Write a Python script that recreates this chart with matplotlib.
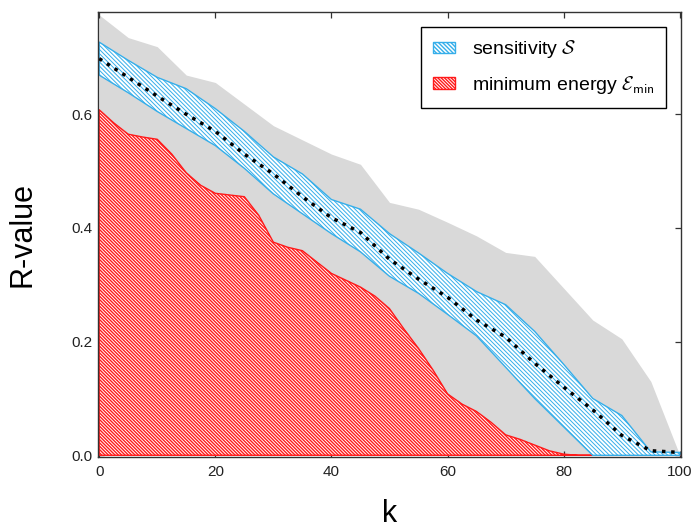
import numpy as np
import matplotlib
matplotlib.use("Agg")
import matplotlib.pyplot as plt

plt.rcParams['font.family'] = ['Liberation Sans', 'DejaVu Sans']
plt.rcParams['mathtext.fontset'] = 'cm'

# ------------------------------------------------------------------
# data (k in steps of 5)
# ------------------------------------------------------------------
k = [0, 5, 10, 15, 20, 25, 30, 35, 40, 45, 50,
     55, 60, 65, 70, 75, 80, 85, 90, 95, 100]

gray_top = [0.775, 0.735, 0.719, 0.669, 0.656, 0.618, 0.580, 0.555, 0.530, 0.512, 0.445,
            0.433, 0.410, 0.386, 0.357, 0.350, 0.294, 0.238, 0.205, 0.130, 0.0]

sens_mean = [0.698, 0.665, 0.632, 0.600, 0.570, 0.530, 0.495, 0.455, 0.418, 0.392, 0.345,
             0.310, 0.278, 0.238, 0.208, 0.162, 0.120, 0.080, 0.035, 0.008, 0.005]
sens_upper = [0.727, 0.695, 0.665, 0.645, 0.610, 0.570, 0.525, 0.495, 0.450, 0.433, 0.390,
              0.356, 0.320, 0.288, 0.265, 0.218, 0.160, 0.100, 0.070, 0.006, 0.005]
sens_lower = [0.669, 0.638, 0.605, 0.575, 0.545, 0.505, 0.460, 0.425, 0.390, 0.358, 0.315,
              0.285, 0.248, 0.210, 0.155, 0.100, 0.050, 0.0, 0.0, 0.0, 0.0]

# minimum energy, finer grid (k in steps of 2.5)
k_e = [0, 2.5, 5, 7.5, 10, 12.5, 15, 17.5, 20, 22.5, 25, 27.5, 30, 32.5, 35, 37.5, 40,
       42.5, 45, 47.5, 50, 52.5, 55, 57.5, 60, 62.5, 65, 67.5, 70, 72.5, 75, 77.5, 80,
       82.5, 85, 87.5, 90, 92.5, 95, 97.5, 100]
emin = [0.608, 0.585, 0.565, 0.560, 0.556, 0.530, 0.497, 0.475, 0.461, 0.458, 0.455,
        0.422, 0.375, 0.366, 0.360, 0.340, 0.320, 0.308, 0.296, 0.280, 0.258, 0.222,
        0.188, 0.150, 0.108, 0.090, 0.077, 0.058, 0.036, 0.028, 0.018, 0.008, 0.002,
        0.0, 0.0, 0.0, 0.0, 0.0, 0.0, 0.0, 0.0]

# ------------------------------------------------------------------
fig = plt.figure(figsize=(6.91, 5.29), dpi=100)
ax = fig.add_axes([98 / 691, 1 - 457 / 529, (681 - 98) / 691, (457 - 12) / 529])

ax.fill_between(k, 0, gray_top, color='#d9d9d9', lw=0, zorder=1)

with plt.rc_context({'hatch.linewidth': 1.0}):
    ax.fill_between(k_e, 0, emin, facecolor='white', edgecolor='#ff1a1a',
                    hatch='\\' * 10, lw=1.0, zorder=2,
                    label=r'minimum energy $\mathcal{E}_{\mathsf{min}}$')

with plt.rc_context({'hatch.linewidth': 0.7}):
    ax.fill_between(k, sens_lower, sens_upper, facecolor='white', edgecolor='#35aeea',
                    hatch='\\' * 8, lw=1.0, zorder=3,
                    label=r'sensitivity $\mathcal{S}$')

ax.plot(k, sens_mean, color='black', ls=':', lw=2.5, zorder=4)

ax.set_xlim(-0.2, 100.2)
ax.set_ylim(-0.003, 0.78)
ax.set_xticks([0, 20, 40, 60, 80, 100])
ax.set_yticks([0.0, 0.2, 0.4, 0.6])
ax.set_yticklabels(['0.0', '0.2', '0.4', '0.6'])

ax.tick_params(axis='both', direction='in', top=True, right=True, length=4,
               width=0.9, color='#333333', labelsize=11, labelcolor='#222222')
ax.tick_params(axis='x', pad=6)
ax.tick_params(axis='y', pad=4)
for s in ax.spines.values():
    s.set_color('#333333')
    s.set_linewidth(1.0)
    s.set_zorder(5)

ax.set_xlabel('k', fontsize=22, labelpad=14)
ax.set_ylabel('R-value', fontsize=22, labelpad=24)

h, l = ax.get_legend_handles_labels()
leg = ax.legend(h[::-1], l[::-1], loc='upper right', fontsize=14, frameon=True,
                fancybox=False, edgecolor='black', framealpha=1.0,
                handlelength=1.1, handleheight=0.5, handletextpad=0.9,
                labelspacing=0.7, borderaxespad=0.75, borderpad=0.6)
leg.get_frame().set_linewidth(1.0)
leg.set_zorder(10)

fig.savefig('out.png', dpi=100)
